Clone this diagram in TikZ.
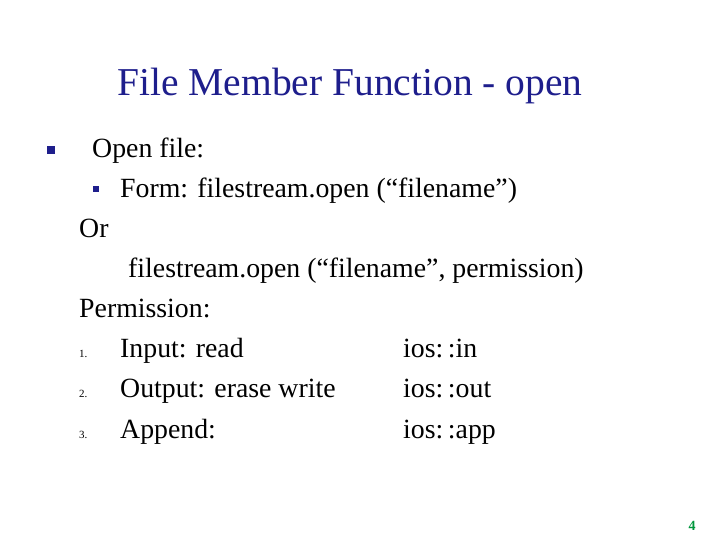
\documentclass[tikz,border=0pt]{standalone}
\usepackage{fontspec}
\setmainfont{Liberation Serif}
\definecolor{slideblue}{RGB}{30,30,140}
\definecolor{pagegreen}{RGB}{0,150,60}
\tikzset{txt/.style={anchor=base west, inner sep=0pt, font=\fontsize{27.8}{32}\selectfont},
         bul/.style={fill=slideblue, minimum size=#1, inner sep=0pt},
         num/.style={anchor=base west, inner sep=0pt, font=\fontsize{11}{13}\selectfont}}
\begin{document}
\begin{tikzpicture}[x=1pt,y=-1pt]
\useasboundingbox (0,0) rectangle (720,540);
\node (title) [anchor=base, inner sep=0pt, text=slideblue, font=\fontsize{39.5}{44}\selectfont] at (350,96) {File Member Function - open};
\node (b1) [bul=8pt] at (51,150) {};
\node (open) [txt] at (92,158) {Open file:};
\node (b2) [bul=6pt] at (96,189) {};
\node (form) [txt] at (120,198) {Form: filestream.open (“filename”)};
\node (or) [txt] at (79,237) {Or};
\node (alt) [txt] at (128,277) {filestream.open (“filename”, permission)};
\node (perm) [txt] at (79,317) {Permission:};
\node (n1) [num] at (79,357) {1.};
\node (in) [txt] at (120,357) {Input: read};
\node (iosin) [txt] at (403,357) {ios:\,:in};
\node (n2) [num] at (79,397) {2.};
\node (out) [txt] at (120,397) {Output: erase write};
\node (iosout) [txt] at (403,397) {ios:\,:out};
\node (n3) [num] at (79,438) {3.};
\node (app) [txt] at (120,438) {Append:};
\node (iosapp) [txt] at (403,438) {ios:\,:app};
\node (page) [anchor=base, inner sep=0pt, text=pagegreen, font=\fontsize{14}{16}\selectfont\bfseries] at (692,530) {4};
\end{tikzpicture}
\end{document}
